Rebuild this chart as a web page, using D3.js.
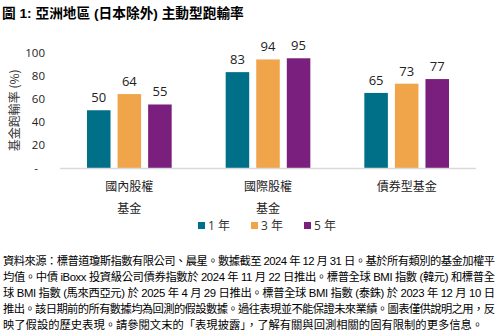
<!DOCTYPE html>
<html><head><meta charset="utf-8">
<script src="https://cdn.jsdelivr.net/npm/d3@7"></script>
<style>
body{margin:0;background:#fff;}
svg{display:block;font-family:"Liberation Sans","Noto Sans CJK TC",Arial,sans-serif;}
</style></head>
<body><svg id="c" width="500" height="336"></svg>
<script>
const categories = ["國內股權基金", "國際股權基金", "債券型基金"];
const categoryLines = [["國內股權", "基金"], ["國際股權", "基金"], ["債券型基金"]];
const seriesNames = ["1 年", "3 年", "5 年"];
const oneYear = [50, 83, 65];
const threeYear = [64, 94, 73];
const fiveYear = [55, 95, 77];
const yTicks = [0, 20, 40, 60, 80, 100];
const yTickLabels = ["-", "20", "40", "60", "80", "100"];
const colors = ["#006f88", "#f0a54b", "#7a1f7d"];
const title = "圖 1:  亞洲地區 (日本除外) 主動型跑輸率";
const yTitle = "基金跑輸率 (%)";
const footnote = [
 "資料來源：標普道瓊斯指數有限公司、晨星。數據截至 2024 年 12 月 31 日。基於所有類別的基金加權平",
 "均值。中債 iBoxx 投資級公司債券指數於 2024 年 11 月 22 日推出。標普全球 BMI 指數 (韓元) 和標普全",
 "球 BMI 指數 (馬來西亞元) 於 2025 年 4 月 29 日推出。標普全球 BMI 指數 (泰銖) 於 2023 年 12 月 10 日",
 "推出。該日期前的所有數據均為回測的假設數據。過往表現並不能保證未來業績。圖表僅供說明之用，反",
 "映了假設的歷史表現。請參閱文末的「表現披露」，了解有關與回測相關的固有限制的更多信息。"
];

const series = [oneYear, threeYear, fiveYear];
const svg = d3.select("#c");
const pLeft = 60, pRight = 476, pTop = 52.5, pBottom = 168;

const x0 = d3.scaleBand().domain(categories).range([pLeft, pRight]).padding(0);
const x1 = d3.scaleBand().domain(d3.range(3)).range([27, x0.bandwidth() - 27]).paddingInner(0.23);
const y = d3.scaleLinear().domain([0, 100]).range([pBottom, pTop]);

// title
svg.append("text").attr("x", 2).attr("y", 18).attr("font-size", 13.7).attr("font-weight", "bold")
  .attr("fill", "#000").text(title);

// y axis labels
const yAxis = svg.append("g").attr("transform", `translate(45,0)`)
  .call(d3.axisLeft(y).tickValues(yTicks).tickFormat((d, i) => yTickLabels[i]).tickSize(0).tickPadding(0));
yAxis.select(".domain").remove();
yAxis.selectAll("text").attr("font-size", 11.5).attr("fill", "#222").attr("text-anchor", "end")
  .attr("font-family", "'Open Sans','Noto Sans',sans-serif")
  .attr("dx", d => d === 0 ? -7 : 0);

// y title
svg.append("text").attr("transform", `translate(15,${(pTop + pBottom) / 2}) rotate(-90)`)
  .attr("text-anchor", "middle").attr("dy", "0.35em").attr("font-size", 12).attr("fill", "#333")
  .attr("font-family", "'Noto Sans CJK TC','Open Sans',sans-serif").text(yTitle);

// bars
const groups = svg.append("g").selectAll("g").data(categories).join("g")
  .attr("transform", d => `translate(${x0(d)},0)`);
groups.each(function(cat, ci) {
  const g = d3.select(this);
  series.forEach((s, si) => {
    g.append("rect").attr("x", x1(si)).attr("width", x1.bandwidth())
      .attr("y", y(s[ci])).attr("height", y(0) - y(s[ci])).attr("fill", colors[si]);
    g.append("text").attr("x", x1(si) + x1.bandwidth() / 2).attr("y", y(s[ci]) - 8)
      .attr("text-anchor", "middle").attr("font-size", 13).attr("fill", "#222")
      .attr("font-family", "'Open Sans','Noto Sans',sans-serif").text(s[ci]);
  });
});

// baseline
svg.append("line").attr("x1", pLeft).attr("x2", pRight).attr("y1", pBottom + 0.5).attr("y2", pBottom + 0.5)
  .attr("stroke", "#d9d9d9").attr("stroke-width", 1.5);

// category labels
categories.forEach((c, i) => {
  const cx = x0(c) + x0.bandwidth() / 2;
  categoryLines[i].forEach((ln, li) => {
    svg.append("text").attr("x", cx).attr("y", 187 + li * 22).attr("dy", "0.35em")
      .attr("text-anchor", "middle").attr("font-size", 12).attr("fill", "#222")
      .attr("font-family", "'Noto Sans CJK TC',sans-serif").text(ln);
  });
});

// legend
const legX = [198, 251, 304];
seriesNames.forEach((n, i) => {
  svg.append("rect").attr("x", legX[i]).attr("y", 222).attr("width", 7).attr("height", 7).attr("fill", colors[i]);
  svg.append("text").attr("x", legX[i] + 10).attr("y", 226).attr("dy", "0.35em")
    .attr("font-size", 12).attr("fill", "#333").attr("font-family", "'Open Sans','Noto Sans CJK TC',sans-serif").text(n);
});

// footnote
footnote.forEach((ln, i) => {
  const t = svg.append("text").attr("x", 3).attr("y", 261 + i * 16).attr("dy", "0.35em")
    .attr("font-size", 11.3).attr("fill", "#000")
    .attr("font-family", "'Liberation Sans','Noto Sans CJK TC',sans-serif").text(ln);
  if (i < footnote.length - 1) t.attr("textLength", 492).attr("lengthAdjust", "spacing");
});
</script></body></html>
